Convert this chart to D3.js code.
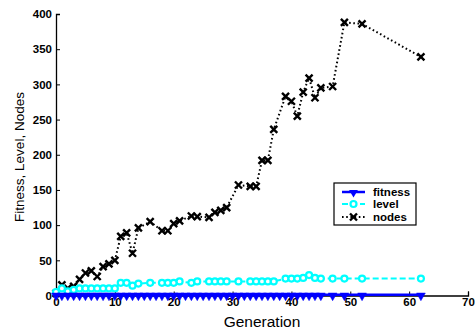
<!DOCTYPE html>
<html><head><meta charset="utf-8">
<script src="https://cdn.jsdelivr.net/npm/d3@7"></script>
<style>html,body{margin:0;padding:0;background:#fff;}svg{display:block;}</style>
</head><body>
<script>
const generations = [0,1,2,3,4,5,6,7,8,9,10,11,12,13,14,16,18,19,20,21,23,24,26,27,28,29,31,33,34,35,36,37,39,40,41,42,43,44,45,47,49,52,62];
const level = [5,10,6,8,10,10,10,10,10,10,10,18,18,14,17,18,18,18,18,20,18,20,20,20,20,20,20,20,20,20,20,20,24,24,24,25,29,25,24,24,24,24,24];
const nodes = [3,15,10,13,23,32,35,27,41,45,50,84,89,60,96,105,92,92,102,106,113,112,111,118,121,125,157,155,155,192,192,236,283,276,255,289,309,281,295,297,388,386,339];
const fitnessGenerations = [0,1,2,3,4,5,6,7,8,9,10,11,12,13,14,15,16,17,18,19,20,21,22,23,24,25,26,27,28,29,30,31,32,33,34,35,36,37,38,39,40,41,42,43,44,45,47,49,52,62];
const fitness = [1,1,1,1,1,1,1,1,1,1,1,1,1,1,1,1,1,1,1,1,1,1,1,1,1,1,1,1,1,1,1,1,1,1,1,1,1,1,1,1,1,1,1,1,1,1,1,1,1,1];
const xTicks = [0,10,20,30,40,50,60,70];
const yTicks = [0,50,100,150,200,250,300,350,400];
const seriesNames = ["fitness","level","nodes"];

const W = 475, H = 331;
const svg = d3.select("body").append("svg").attr("width", W).attr("height", H);
const x = d3.scaleLinear().domain([0,70]).range([56,468]);
const y = d3.scaleLinear().domain([0,400]).range([295.5,14]);

// axes
const xAxis = d3.axisBottom(x).tickValues(xTicks).tickSize(-4).tickPadding(4);
const yAxis = d3.axisLeft(y).tickValues(yTicks).tickSize(-4).tickPadding(4);
const gx = svg.append("g").attr("transform", `translate(0,${y(0)})`).call(xAxis);
const gy = svg.append("g").attr("transform", `translate(${x(0)},0)`).call(yAxis);
[gx, gy].forEach(g => {
  g.select(".domain").attr("stroke", "#000").attr("stroke-width", 1.3);
  g.selectAll(".tick line").attr("stroke", "#000");
  g.selectAll(".tick text").attr("font-family", "Arial, 'Liberation Sans', sans-serif")
    .attr("font-weight", "bold").attr("font-size", "11.5px").attr("fill", "#000");
});
gx.selectAll(".tick text").attr("dy", "0.6em");

svg.append("text").attr("x", 262).attr("y", 327).attr("text-anchor", "middle")
  .attr("font-family", "Arial, 'Liberation Sans', sans-serif").attr("font-size", "15.5px")
  .text("Generation");
svg.append("text").attr("transform", "translate(24,157) rotate(-90)").attr("text-anchor", "middle")
  .attr("font-family", "Arial, 'Liberation Sans', sans-serif").attr("font-size", "13.5px")
  .text("Fitness, Level, Nodes");

const line = d3.line().x(d => x(d[0])).y(d => y(d[1]));
const fitData = fitnessGenerations.map((g,i) => [g, fitness[i]]);
const levData = generations.map((g,i) => [g, level[i]]);
const nodData = generations.map((g,i) => [g, nodes[i]]);

const tri = d3.symbol().type(d3.symbolTriangle).size(34)();
const xMark = "M-3.5,-3.5L3.5,3.5M-3.5,3.5L3.5,-3.5";

// nodes
svg.append("path").datum(nodData).attr("d", line).attr("fill", "none")
  .attr("stroke", "#000").attr("stroke-width", 2).attr("stroke-dasharray", "1.6,2.6");
svg.append("g").selectAll("path").data(nodData).join("path")
  .attr("transform", d => `translate(${x(d[0])},${y(d[1])})`).attr("d", xMark)
  .attr("stroke", "#000").attr("stroke-width", 2.4).attr("fill", "none");

// level
svg.append("path").datum(levData).attr("d", line).attr("fill", "none")
  .attr("stroke", "#00ffff").attr("stroke-width", 2).attr("stroke-dasharray", "6,3");
svg.append("g").selectAll("circle").data(levData).join("circle")
  .attr("cx", d => x(d[0])).attr("cy", d => y(d[1])).attr("r", 3)
  .attr("fill", "#fff").attr("stroke", "#00ffff").attr("stroke-width", 2.2);

// fitness
svg.append("path").datum(fitData).attr("d", line).attr("fill", "none")
  .attr("stroke", "#0000ff").attr("stroke-width", 2.5);
svg.append("g").selectAll("path").data(fitData).join("path")
  .attr("transform", d => `translate(${x(d[0])},${y(d[1])+0.8}) rotate(180)`).attr("d", tri)
  .attr("fill", "#0000ff").attr("stroke", "#0000ff").attr("stroke-width", 0.5);

// legend
const lg = svg.append("g").attr("transform", "translate(334,183)");
lg.append("rect").attr("x", 0).attr("y", 0).attr("width", 82).attr("height", 42)
  .attr("fill", "#fff").attr("stroke", "#000").attr("stroke-width", 1.2);
const rowsY = [9, 21, 34];
seriesNames.forEach((name, i) => {
  const ry = rowsY[i];
  const g = lg.append("g").attr("transform", `translate(0,${ry})`);
  if (i === 0) {
    g.append("line").attr("x1", 8).attr("x2", 31).attr("stroke", "#0000ff").attr("stroke-width", 2.5);
    g.append("path").attr("transform", "translate(19.5,0.5) rotate(180)").attr("d", tri).attr("fill", "#0000ff");
  } else if (i === 1) {
    g.append("line").attr("x1", 8).attr("x2", 31).attr("stroke", "#00ffff").attr("stroke-width", 2).attr("stroke-dasharray", "6,3");
    g.append("circle").attr("cx", 19.5).attr("r", 3).attr("fill", "#fff").attr("stroke", "#00ffff").attr("stroke-width", 2.2);
  } else {
    g.append("line").attr("x1", 8).attr("x2", 31).attr("stroke", "#000").attr("stroke-width", 2).attr("stroke-dasharray", "1.6,2.6");
    g.append("path").attr("transform", "translate(19.5,0)").attr("d", xMark).attr("stroke", "#000").attr("stroke-width", 2.4);
  }
  g.append("text").attr("x", 39).attr("y", 0).attr("dy", "0.35em")
    .attr("font-family", "Arial, 'Liberation Sans', sans-serif").attr("font-weight", "bold")
    .attr("font-size", "11.5px").text(name);
});
</script>
</body></html>
